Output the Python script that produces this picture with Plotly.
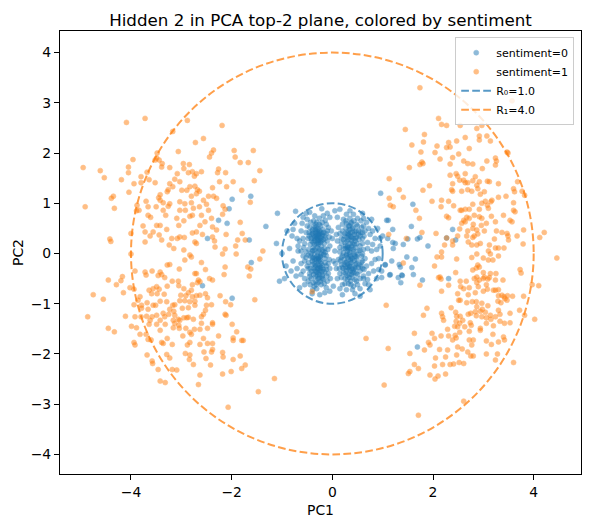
import plotly.graph_objects as go

# Hidden-layer-2 activations projected on PCA top-2, split by sentiment label.
# (PC1, PC2) pairs.

# sentiment = 0 : four tight clumps round the origin
s0_core = [
    (-0.30, 0.32), (-0.25, 0.40), (-0.35, 0.25), (-0.42, 0.38), (-0.18, 0.28), (-0.28, 0.50),
    (-0.38, 0.12), (-0.22, 0.15), (-0.48, 0.30), (-0.12, 0.40), (-0.33, 0.58), (-0.20, 0.62),
    (-0.45, 0.52), (-0.55, 0.20), (-0.15, 0.10), (-0.27, 0.05), (-0.40, 0.45), (-0.32, 0.36),
    (-0.24, 0.22), (-0.36, 0.30), (-0.29, 0.43), (-0.19, 0.48), (-0.10, 0.25), (-0.08, 0.52),
    (-0.52, 0.42), (-0.58, 0.30), (-0.44, 0.18), (-0.37, 0.65), (-0.26, 0.70), (-0.14, 0.66),
    (-0.31, 0.20), (-0.21, 0.35), (-0.39, 0.40), (-0.34, 0.47), (-0.27, 0.27), (-0.23, 0.55),
    (-0.47, 0.08), (-0.06, 0.33), (-0.16, 0.20), (-0.41, 0.25), (-0.30, 0.12), (-0.50, 0.55),
    (-0.62, 0.45), (-0.05, 0.15), (-0.12, 0.58), (-0.35, 0.75), (-0.43, 0.62), (-0.18, 0.75),
    (-0.26, 0.33), (-0.33, 0.42), (-0.22, 0.42), (-0.28, 0.18), (-0.36, 0.55), (-0.46, 0.35),
    (-0.15, 0.35), (-0.10, 0.45), (-0.57, 0.12), (-0.65, 0.25), (-0.09, 0.08), (-0.40, 0.05),
    (-0.31, 0.30), (-0.27, 0.36), (-0.34, 0.33), (-0.29, 0.26), (-0.23, 0.31), (-0.37, 0.35),
    (-0.25, 0.45), (-0.32, 0.40), (-0.20, 0.38), (-0.38, 0.22), (-0.30, 0.48), (-0.24, 0.26),
    (-0.35, 0.18), (-0.28, 0.39), (-0.42, 0.30), (-0.17, 0.42), (-0.26, 0.58), (-0.33, 0.52),
    (-0.21, 0.25), (-0.39, 0.48), (-0.31, 0.62), (-0.14, 0.30), (-0.46, 0.42), (-0.28, 0.22),
    (-0.35, 0.08),
    (-0.30, 0.02), (-0.22, -0.01), (-0.35, -0.02), (-0.18, 0.04), (-0.42, 0.00), (-0.26, 0.09),
    (-0.33, -0.09), (-0.12, -0.04), (-0.48, -0.03), (-0.20, 0.07), (-0.38, 0.06), (-0.28, -0.10),
    (-0.14, 0.02), (-0.52, 0.03), (-0.24, -0.06),
    (-0.28, -0.28), (-0.22, -0.20), (-0.35, -0.35), (-0.40, -0.22), (-0.18, -0.32), (-0.30, -0.45),
    (-0.25, -0.12), (-0.45, -0.40), (-0.12, -0.25), (-0.33, -0.55), (-0.20, -0.50), (-0.50, -0.25),
    (-0.15, -0.10), (-0.38, -0.08), (-0.27, -0.38), (-0.32, -0.18), (-0.24, -0.30), (-0.42, -0.50),
    (-0.08, -0.40), (-0.55, -0.15), (-0.48, -0.55), (-0.36, -0.65), (-0.22, -0.62), (-0.10, -0.55),
    (-0.30, -0.05), (-0.44, -0.30), (-0.19, -0.42), (-0.29, -0.22), (-0.34, -0.28), (-0.26, -0.48),
    (-0.14, -0.18), (-0.05, -0.30), (-0.58, -0.35), (-0.52, -0.08), (-0.40, -0.15), (-0.16, -0.60),
    (-0.31, -0.70), (-0.44, -0.62), (-0.06, -0.12), (-0.23, -0.05), (-0.37, -0.42), (-0.21, -0.36),
    (-0.28, -0.58), (-0.47, -0.18), (-0.11, -0.45), (-0.35, -0.12), (-0.25, -0.25), (-0.32, -0.36),
    (-0.62, -0.42), (-0.04, -0.50), (-0.17, -0.02), (-0.39, -0.72), (-0.12, -0.68), (-0.55, -0.50),
    (-0.27, -0.15), (-0.43, -0.05),
    (-0.29, -0.30), (-0.25, -0.34), (-0.33, -0.24), (-0.30, -0.38), (-0.22, -0.28), (-0.37, -0.30),
    (-0.26, -0.42), (-0.34, -0.46), (-0.19, -0.24), (-0.41, -0.36), (-0.28, -0.50), (-0.23, -0.16),
    (-0.36, -0.20), (-0.31, -0.12), (-0.15, -0.36), (-0.45, -0.46), (-0.24, -0.55), (-0.38, -0.58),
    (-0.20, -0.45), (-0.32, -0.62), (-0.48, -0.30), (-0.12, -0.32), (-0.27, -0.08), (-0.40, -0.10),
    (-0.18, -0.52),
    (0.38, 0.32), (0.30, 0.40), (0.45, 0.25), (0.52, 0.38), (0.25, 0.22), (0.40, 0.50),
    (0.33, 0.12), (0.60, 0.30), (0.20, 0.45), (0.48, 0.58), (0.28, 0.60), (0.55, 0.15),
    (0.18, 0.30), (0.42, 0.08), (0.65, 0.45), (0.35, 0.70), (0.50, 0.70), (0.22, 0.68),
    (0.70, 0.22), (0.15, 0.12), (0.36, 0.42), (0.44, 0.38), (0.32, 0.28), (0.40, 0.20),
    (0.27, 0.50), (0.58, 0.52), (0.62, 0.08), (0.12, 0.52), (0.47, 0.45), (0.34, 0.55),
    (0.53, 0.28), (0.24, 0.35), (0.75, 0.38), (0.80, 0.18), (0.68, 0.62), (0.10, 0.25),
    (0.30, 0.05), (0.43, 0.65), (0.56, 0.42), (0.39, 0.15), (0.26, 0.15), (0.49, 0.20),
    (0.37, 0.60), (0.20, 0.58), (0.15, 0.40), (0.63, 0.35), (0.72, 0.50), (0.42, 0.78),
    (0.28, 0.78), (0.57, 0.65), (0.85, 0.30), (0.33, 0.35), (0.46, 0.30), (0.40, 0.42),
    (0.22, 0.10), (0.52, 0.05), (0.35, 0.48), (0.29, 0.32), (0.60, 0.20), (0.08, 0.38),
    (0.37, 0.34), (0.33, 0.38), (0.42, 0.30), (0.38, 0.26), (0.31, 0.45), (0.45, 0.43),
    (0.48, 0.33), (0.29, 0.25), (0.41, 0.52), (0.35, 0.20), (0.52, 0.45), (0.25, 0.40),
    (0.44, 0.18), (0.32, 0.55), (0.55, 0.35), (0.22, 0.28), (0.38, 0.62), (0.50, 0.55),
    (0.27, 0.65), (0.60, 0.42), (0.46, 0.12), (0.18, 0.20), (0.36, 0.10), (0.62, 0.55),
    (0.30, 0.15),
    (0.35, 0.02), (0.28, -0.04), (0.42, 0.04), (0.22, 0.01), (0.48, -0.06), (0.32, 0.08),
    (0.38, -0.09), (0.15, 0.03), (0.55, 0.06), (0.26, 0.10), (0.44, -0.02), (0.60, -0.01),
    (0.18, -0.08), (0.36, -0.13), (0.30, 0.12),
    (0.35, -0.25), (0.28, -0.18), (0.42, -0.32), (0.48, -0.20), (0.22, -0.30), (0.38, -0.42),
    (0.30, -0.08), (0.55, -0.35), (0.18, -0.22), (0.45, -0.52), (0.25, -0.50), (0.60, -0.15),
    (0.15, -0.40), (0.40, -0.10), (0.62, -0.45), (0.32, -0.60), (0.50, -0.62), (0.20, -0.62),
    (0.68, -0.25), (0.12, -0.12), (0.36, -0.35), (0.44, -0.28), (0.31, -0.28), (0.38, -0.18),
    (0.26, -0.40), (0.55, -0.50), (0.58, -0.05), (0.10, -0.50), (0.47, -0.40), (0.34, -0.48),
    (0.52, -0.28), (0.23, -0.12), (0.72, -0.40), (0.78, -0.20), (0.65, -0.60), (0.08, -0.30),
    (0.28, -0.02), (0.42, -0.65), (0.57, -0.25), (0.37, -0.05), (0.24, -0.22), (0.49, -0.12),
    (0.36, -0.55), (0.18, -0.48), (0.14, -0.30), (0.63, -0.32), (0.70, -0.52), (0.40, -0.72),
    (0.28, -0.72), (0.55, -0.70), (0.82, -0.35), (0.33, -0.32), (0.46, -0.22), (0.40, -0.38),
    (0.20, -0.05), (0.50, -0.02), (0.33, -0.42), (0.27, -0.28), (0.58, -0.18), (0.06, -0.20),
    (0.34, -0.26), (0.30, -0.22), (0.39, -0.30), (0.36, -0.20), (0.28, -0.34), (0.43, -0.38),
    (0.46, -0.30), (0.26, -0.18), (0.40, -0.48), (0.32, -0.12), (0.50, -0.42), (0.22, -0.38),
    (0.44, -0.14), (0.30, -0.52), (0.53, -0.22), (0.20, -0.28), (0.37, -0.62), (0.48, -0.55),
    (0.25, -0.60), (0.60, -0.30), (0.45, -0.05), (0.16, -0.15), (0.34, -0.02), (0.62, -0.50),
    (0.29, -0.44),
]

# sentiment = 0 : looser points around / outside the R0 circle
s0_stray = [
    (-0.75, 0.60), (-0.80, 0.35), (-0.85, 0.10), (-0.78, -0.15), (-0.72, -0.45), (-0.65, -0.68),
    (-0.58, 0.72), (-0.45, 0.82), (-0.21, 0.89), (-0.73, 0.84), (-1.09, 0.80), (-1.32, 0.54),
    (-1.11, 0.20), (-1.05, -0.55), (-0.95, -0.50), (-0.90, 0.45), (-1.00, 0.00), (-0.92, -0.25),
    (-0.68, 0.05), (-0.70, 0.30), (-0.62, -0.20), (0.05, 0.85), (0.15, 0.88), (0.60, 0.80),
    (0.78, 0.68), (0.90, 0.50), (0.95, 0.15), (0.92, -0.10), (0.88, -0.50), (0.75, -0.72),
    (0.55, -0.85), (0.20, -0.82), (-0.05, -0.75), (-0.25, -0.82), (1.08, 0.66), (1.20, 0.48),
    (1.05, -0.23), (1.14, -0.43), (1.35, -0.27), (1.38, -0.43), (1.25, 0.20), (1.10, 0.30),
    (0.98, -0.35), (1.00, 0.35), (-0.05, 0.72), (0.02, -0.65), (0.00, 0.30), (0.02, -0.15),
    (-0.60, 0.60), (-0.68, 0.15), (-0.70, -0.30), (-0.55, -0.62), (-0.50, 0.68), (-0.40, -0.80),
    (-0.15, -0.78), (-0.10, 0.80), (0.10, 0.72), (0.35, 0.85), (0.62, 0.70), (0.78, 0.05),
    (0.85, -0.12), (0.80, 0.45), (0.72, -0.62), (0.45, -0.80), (0.15, -0.70), (-0.58, -0.05),
    (-0.62, 0.05), (0.70, 0.10), (0.65, -0.10), (-0.08, -0.20), (-0.02, 0.45), (0.05, 0.05),
    (0.88, 0.08), (-0.82, -0.35), (-0.78, 0.48), (0.95, 0.30), (0.92, -0.32), (-0.52, 0.80),
    (-1.99, 1.08), (-1.62, 1.14), (-2.05, 0.89), (-2.26, 0.66), (-2.09, 0.60), (-2.48, 0.30),
    (-1.65, 0.27), (-1.61, -0.18), (-2.58, -0.64), (-1.99, -0.89),
    (0.96, 1.20), (1.60, 0.98), (1.11, 0.66), (1.57, 0.54), (1.74, 0.32), (1.69, 0.29),
    (1.50, 0.29), (1.41, 0.18), (1.20, 0.22), (1.21, 0.10), (1.90, 0.15), (1.48, -0.07),
    (1.65, -0.11), (2.39, 0.48), (2.45, 0.27), (2.27, 0.31), (1.33, -0.22), (1.18, -0.15),
    (1.05, -0.22), (1.58, -0.28), (1.15, -0.42), (1.31, -0.48), (1.39, -0.44), (1.36, -0.58),
    (1.61, -0.42), (1.79, -0.53), (2.31, -0.50), (1.69, -1.86), (0.98, -0.48),
]

# sentiment = 1 : left band (PC1 < 0)
s1_left = [
    (-4.09, 2.61), (-3.72, 2.69), (-2.88, 2.65), (-2.19, 2.55), (-3.17, 2.43), (-2.72, 2.21),
    (-2.56, 2.29), (-2.36, 2.06), (-2.40, 2.00), (-2.44, 1.92), (-1.95, 2.05), (-1.57, 2.05),
    (-3.06, 2.03), (-3.48, 2.00), (-3.49, 1.90), (-3.52, 1.86), (-3.44, 1.86), (-3.96, 1.87),
    (-1.93, 1.92), (-1.83, 1.81), (-1.67, 1.81), (-4.95, 1.71), (-4.61, 1.65), (-4.05, 1.72),
    (-3.38, 1.79), (-3.39, 1.72), (-3.23, 1.71), (-2.96, 1.79), (-2.84, 1.77), (-2.95, 1.69),
    (-2.26, 1.68), (-1.44, 1.65), (-4.53, 1.51), (-4.05, 1.61), (-4.19, 1.47), (-3.68, 1.62),
    (-3.80, 1.53), (-3.64, 1.47), (-3.08, 1.59), (-2.86, 1.61), (-2.78, 1.63), (-2.70, 1.59),
    (-2.60, 1.63), (-2.28, 1.61), (-2.12, 1.61), (-1.55, 1.45), (-3.80, 1.41), (-3.52, 1.41),
    (-3.94, 1.39), (-3.23, 1.39), (-3.13, 1.48), (-3.03, 1.43), (-2.74, 1.54), (-2.24, 1.43),
    (-1.97, 1.43), (-2.10, 1.33), (-3.17, 1.33), (-2.89, 1.26), (-2.83, 1.33), (-2.73, 1.34),
    (-2.68, 1.27), (-2.70, 1.19), (-2.80, 1.14), (-2.64, 1.24), (-2.46, 1.14), (-2.36, 1.14),
    (-2.38, 1.31), (-1.80, 1.26), (-4.04, 1.22), (-3.26, 1.27), (-3.42, 1.17), (-3.28, 1.23),
    (-2.99, 1.26), (-4.35, 1.14), (-4.39, 1.10), (-3.70, 1.04), (-3.88, 0.96), (-3.66, 0.93),
    (-3.50, 0.93), (-3.45, 1.11), (-3.42, 1.06), (-3.36, 1.01), (-3.23, 0.99), (-3.26, 0.94),
    (-3.03, 1.03), (-2.93, 0.99), (-2.80, 1.01), (-2.56, 1.06), (-2.50, 0.98), (-2.30, 1.10),
    (-2.17, 0.95), (-1.63, 1.02), (-4.33, 0.90), (-4.91, 0.93), (-3.84, 0.86), (-3.89, 0.85),
    (-3.36, 0.86), (-3.03, 0.86), (-2.92, 0.86), (-2.76, 0.90), (-2.64, 0.93), (-2.13, 0.88),
    (-3.31, 0.76), (-3.61, 0.72), (-3.66, 0.76), (-3.09, 0.70), (-2.83, 0.74), (-2.78, 0.76),
    (-2.60, 0.76), (-2.46, 0.86), (-2.40, 0.70), (-2.53, 0.63), (-2.63, 0.56), (-1.83, 0.62),
    (-3.49, 0.56), (-3.42, 0.56), (-3.76, 0.55), (-2.95, 0.65), (-3.05, 0.56), (-2.18, 0.78),
    (-2.38, 0.53), (-2.30, 0.47), (-3.72, 0.43), (-3.56, 0.43), (-2.11, 0.38), (-1.79, 0.40),
    (-3.29, 0.48), (-2.70, 0.43), (-2.78, 0.41), (-2.58, 0.38), (-4.00, 0.40), (-3.62, 0.35),
    (-3.39, 0.27), (-3.44, 0.37), (-3.19, 0.30), (-3.08, 0.30), (-3.03, 0.33), (-2.94, 0.32),
    (-2.34, 0.25), (-2.38, 0.33), (-1.88, 0.27), (-1.73, 0.27), (-4.42, 0.29), (-4.40, 0.24),
    (-3.72, 0.23), (-2.73, 0.23), (-2.70, 0.20), (-3.24, 0.17), (-2.33, 0.13), (-2.13, 0.09),
    (-1.92, 0.15), (-3.15, 0.10), (-2.95, 0.07), (-4.00, -0.01), (-2.83, -0.03), (-2.80, -0.07),
    (-2.18, -0.01), (-1.91, -0.01), (-2.93, -0.13), (-1.44, -0.11),
    (-2.60, -0.18), (-2.13, -0.27), (-1.68, -0.27), (-1.62, -0.31), (-3.28, -0.23), (-3.23, -0.22),
    (-3.04, -0.31), (-2.52, -0.32), (-2.73, -0.40), (-2.70, -0.40), (-2.15, -0.42), (-1.65, -0.45),
    (-3.92, -0.35), (-3.72, -0.37), (-3.70, -0.43), (-3.58, -0.35), (-3.42, -0.37), (-3.46, -0.44),
    (-3.39, -0.42), (-3.33, -0.48), (-4.17, -0.46), (-4.20, -0.54), (-4.45, -0.53), (-4.29, -0.62),
    (-3.18, -0.55), (-3.06, -0.55), (-3.05, -0.64), (-2.66, -0.53), (-2.63, -0.56), (-2.44, -0.50),
    (-2.38, -0.53), (-2.68, -0.58), (-2.78, -0.62), (-2.80, -0.73), (-2.95, -0.70), (-2.86, -0.78),
    (-3.28, -0.65), (-3.49, -0.66), (-3.56, -0.70), (-3.64, -0.73), (-3.44, -0.71), (-3.59, -0.80),
    (-3.48, -0.80), (-3.34, -0.81), (-4.02, -0.68), (-4.15, -0.78), (-3.94, -0.71), (-4.75, -0.82),
    (-4.55, -0.91), (-3.82, -0.86), (-2.52, -0.80), (-2.63, -0.83), (-2.48, -0.88), (-2.23, -0.84),
    (-3.01, -0.83), (-2.91, -0.84), (-2.78, -0.86), (-2.73, -0.95), (-2.70, -0.84), (-3.86, -0.93),
    (-3.68, -0.98), (-3.56, -1.03), (-3.51, -1.03), (-3.94, -1.02), (-3.79, -1.03), (-3.42, -0.95),
    (-3.29, -0.96), (-3.17, -1.03), (-3.13, -1.02), (-3.03, -0.94), (-2.93, -0.94), (-2.83, -0.96),
    (-2.98, -1.09), (-2.86, -1.08), (-2.73, -1.03), (-2.50, -1.03), (-2.40, -1.02), (-2.12, -0.96),
    (-2.02, -1.02), (-1.54, -0.92), (-3.66, -1.11), (-3.23, -1.11), (-3.15, -1.15), (-3.79, -1.09),
    (-3.36, -1.19), (-3.25, -1.21), (-3.13, -1.23), (-3.33, -1.26), (-3.49, -1.23), (-3.58, -1.26),
    (-3.69, -1.25), (-3.80, -1.26), (-3.92, -1.26), (-4.11, -1.25), (-4.86, -1.26), (-3.06, -1.31),
    (-2.95, -1.28), (-2.89, -1.28), (-2.86, -1.27), (-3.03, -1.33), (-2.76, -1.31), (-2.60, -1.26),
    (-2.56, -1.21), (-2.52, -1.13), (-2.13, -1.21), (-2.11, -1.23), (-3.62, -1.33), (-3.42, -1.33),
    (-3.16, -1.33), (-3.13, -1.39), (-3.99, -1.45), (-3.89, -1.48), (-3.64, -1.41), (-3.49, -1.41),
    (-3.32, -1.41), (-3.05, -1.43), (-3.04, -1.49), (-2.91, -1.49), (-2.74, -1.51), (-2.63, -1.51),
    (-2.60, -1.39), (-2.48, -1.49), (-2.38, -1.38), (-2.38, -1.41), (-1.99, -1.41), (-4.45, -1.49),
    (-4.33, -1.56), (-3.82, -1.61), (-3.70, -1.61), (-3.66, -1.71), (-3.42, -1.53), (-3.16, -1.48),
    (-2.97, -1.64), (-2.83, -1.57), (-2.80, -1.61), (-2.56, -1.69), (-2.26, -1.64), (-1.90, -1.56),
    (-1.97, -1.68), (-1.97, -1.73), (-1.80, -1.73), (-1.77, -1.73), (-3.94, -1.77), (-3.92, -1.82),
    (-3.60, -1.72), (-3.39, -1.77), (-3.36, -1.79), (-3.28, -1.69), (-3.18, -1.81), (-2.88, -1.82),
    (-2.83, -1.77), (-2.63, -1.81), (-2.48, -1.79), (-2.38, -1.79), (-2.38, -1.91), (-2.55, -1.96),
    (-2.40, -1.96), (-2.18, -1.97), (-2.92, -1.99), (-2.83, -2.02), (-3.23, -2.08), (-3.29, -2.01),
    (-3.68, -2.02), (-3.58, -2.14), (-3.57, -2.19), (-2.84, -2.11), (-2.76, -2.21), (-2.51, -2.09),
    (-2.42, -2.22), (-2.17, -2.06), (-1.97, -2.11), (-1.83, -2.04), (-1.73, -2.22), (-1.80, -2.29),
    (-3.46, -2.31), (-3.18, -2.31), (-3.09, -2.32), (-2.01, -2.35), (-2.63, -2.42), (-2.18, -2.40),
    (-3.42, -2.54), (-3.32, -2.57), (-2.66, -2.61), (-1.47, -2.75), (-2.07, -3.06), (-1.15, -2.49),
    (-1.38, 0.05), (-0.40, -0.76),
]

# sentiment = 1 : right band (PC1 > 0)
s1_right = [
    (1.74, 3.30), (3.57, 3.04), (2.11, 2.69), (2.17, 2.57), (2.27, 2.55), (2.54, 2.55),
    (1.45, 2.47), (2.87, 2.49), (2.97, 2.55), (1.83, 2.37), (1.81, 2.22), (1.58, 2.16),
    (2.08, 2.14), (2.31, 2.21), (2.34, 2.12), (2.27, 2.11), (2.47, 2.24), (2.64, 2.31),
    (2.92, 2.34), (2.92, 2.26), (3.07, 2.34), (2.72, 2.09), (3.14, 2.24), (2.04, 2.01),
    (1.76, 2.02), (2.51, 1.98), (1.78, 1.82), (1.80, 1.79), (1.74, 1.77), (2.14, 1.88),
    (2.39, 1.91), (2.61, 1.84), (2.69, 1.79), (2.79, 1.78), (3.07, 1.84), (3.24, 1.90),
    (3.26, 1.84), (3.24, 1.76), (3.47, 2.02), (3.49, 2.00), (2.34, 1.78), (1.53, 1.71),
    (2.98, 1.69), (1.13, 1.49), (2.34, 1.56), (2.46, 1.59), (2.49, 1.54), (2.64, 1.59),
    (2.39, 1.39), (2.53, 1.46), (2.61, 1.46), (2.64, 1.41), (2.69, 1.41), (2.84, 1.53),
    (2.79, 1.45), (2.92, 1.43), (3.08, 1.44), (3.12, 1.43), (3.30, 1.39), (3.68, 1.43),
    (2.87, 1.36), (2.89, 1.29), (2.37, 1.27), (2.39, 1.24), (2.57, 1.24), (2.69, 1.27),
    (2.77, 1.24), (2.94, 1.18), (3.02, 1.23), (1.33, 1.27), (1.80, 1.26), (1.93, 1.35),
    (3.60, 1.29), (3.62, 1.23), (3.77, 1.24), (3.82, 1.16), (1.41, 1.12), (1.13, 1.10),
    (1.15, 0.96), (1.21, 0.93), (1.98, 1.04), (2.17, 1.06), (2.16, 0.93), (2.31, 1.04),
    (2.41, 0.95), (2.54, 0.86), (2.57, 0.86), (2.64, 0.88), (2.72, 0.88), (2.79, 0.98),
    (2.92, 0.88), (2.97, 1.00), (3.04, 1.04), (3.08, 0.96), (3.10, 0.90), (3.15, 1.03),
    (3.17, 1.06), (3.30, 1.12), (3.45, 1.14), (3.60, 1.01), (3.60, 0.86), (3.63, 0.83),
    (1.66, 0.86), (1.73, 0.70), (2.27, 0.74), (2.31, 0.71), (2.61, 0.66), (2.67, 0.72),
    (2.72, 0.70), (2.82, 0.76), (2.92, 0.73), (2.97, 0.70), (3.16, 0.74), (2.57, 0.60),
    (2.64, 0.63), (3.40, 0.76), (3.53, 0.66), (3.57, 0.63), (2.80, 0.58), (2.96, 0.56),
    (3.06, 0.60), (3.24, 0.63), (2.53, 0.49), (2.69, 0.45), (2.79, 0.50), (2.87, 0.47),
    (2.89, 0.39), (3.02, 0.45), (3.26, 0.45), (3.37, 0.42), (3.47, 0.40), (3.49, 0.35),
    (3.50, 0.27), (3.67, 0.35), (3.80, 0.47), (4.12, 0.32), (4.21, 0.42), (1.78, 0.42),
    (2.06, 0.40), (1.47, 0.30), (2.27, 0.31), (2.49, 0.35), (2.67, 0.35), (2.79, 0.32),
    (2.82, 0.35), (2.70, 0.23), (2.77, 0.17), (2.87, 0.17), (2.94, 0.20), (3.12, 0.17),
    (3.22, 0.29), (3.24, 0.11), (3.30, 0.11), (3.41, 0.11), (3.79, 0.19), (2.23, 0.17),
    (2.39, 0.25), (2.39, 0.17), (2.17, 0.03), (2.08, -0.07), (2.47, -0.11), (2.77, -0.08),
    (2.87, -0.01), (3.00, -0.09), (3.10, 0.05), (3.14, -0.01), (3.30, -0.05), (4.46, -0.09),
    (1.12, 0.38), (1.41, -0.19), (2.17, -0.07), (3.10, -0.13), (3.19, -0.13),
    (2.03, -0.25), (2.79, -0.33), (2.86, -0.29), (2.89, -0.23), (2.92, -0.27), (2.45, -0.38),
    (3.00, -0.38), (3.02, -0.47), (3.14, -0.40), (3.25, -0.40), (3.73, -0.32), (3.75, -0.39),
    (2.11, -0.48), (2.16, -0.51), (2.14, -0.47), (2.54, -0.55), (2.66, -0.55), (2.82, -0.50),
    (2.87, -0.47), (2.92, -0.53), (3.00, -0.50), (3.09, -0.51), (3.12, -0.48), (3.24, -0.53),
    (3.39, -0.53), (2.55, -0.66), (2.61, -0.70), (2.72, -0.68), (2.87, -0.58), (2.90, -0.66),
    (3.06, -0.62), (3.08, -0.71), (3.20, -0.73), (3.24, -0.73), (3.30, -0.72), (1.74, -0.63),
    (2.31, -0.63), (2.17, -0.75), (2.49, -0.80), (2.70, -0.82), (2.84, -0.78), (3.00, -0.75),
    (3.30, -0.84), (3.37, -0.83), (3.41, -0.86), (3.43, -0.90), (3.48, -0.84), (3.58, -0.85),
    (3.80, -0.85), (3.97, -0.62), (4.10, -0.64), (1.07, -1.03), (1.88, -1.09), (1.81, -1.23),
    (2.36, -1.08), (2.51, -0.93), (2.54, -0.93), (2.67, -0.98), (2.78, -0.96), (2.86, -0.96),
    (2.87, -1.06), (2.97, -0.99), (2.98, -1.11), (2.94, -1.15), (3.09, -1.04), (3.29, -0.95),
    (3.35, -0.98), (3.47, -0.93), (3.30, -1.13), (3.24, -1.26), (3.33, -1.21), (3.53, -1.19),
    (3.72, -1.13), (3.82, -1.23), (4.02, -1.31), (2.17, -1.19), (2.19, -1.26), (2.21, -1.33),
    (2.45, -1.17), (2.47, -1.25), (2.54, -1.25), (2.70, -1.21), (2.75, -1.19), (2.84, -1.16),
    (2.86, -1.24), (2.97, -1.26), (3.06, -1.28), (3.04, -1.17), (3.14, -1.23), (3.15, -1.31),
    (2.59, -1.33), (2.74, -1.38), (2.76, -1.43), (2.46, -1.35), (2.53, -1.39), (2.43, -1.45),
    (2.29, -1.51), (2.49, -1.46), (2.63, -1.46), (2.94, -1.49), (3.06, -1.39), (3.20, -1.44),
    (3.33, -1.35), (3.42, -1.39), (3.53, -1.38), (1.98, -1.59), (2.16, -1.64), (2.31, -1.64),
    (2.44, -1.63), (2.53, -1.57), (2.46, -1.68), (2.72, -1.55), (2.94, -1.53), (3.19, -1.61),
    (3.40, -1.66), (1.63, -1.59), (1.91, -1.77), (1.94, -1.82), (2.03, -1.69), (2.39, -1.72),
    (2.49, -1.86), (2.58, -1.90), (2.72, -1.72), (2.77, -1.82), (2.80, -1.72), (3.06, -1.74),
    (3.30, -1.76), (3.16, -1.81), (3.42, -1.72), (1.83, -1.92), (2.13, -1.91), (2.29, -1.92),
    (2.69, -1.96), (2.75, -2.04), (2.80, -2.04), (2.47, -2.02), (3.06, -2.00), (3.28, -2.00),
    (1.54, -1.99), (2.05, -2.08), (2.25, -2.06), (3.24, -2.12), (3.60, -2.17), (1.63, -2.21),
    (1.71, -2.29), (2.03, -2.24), (2.19, -2.21), (2.34, -2.21), (2.41, -2.20), (2.52, -2.17),
    (2.61, -2.19), (1.54, -2.35), (1.51, -2.39), (1.94, -2.42), (2.04, -2.50), (2.10, -2.44),
    (2.25, -2.40), (1.11, -1.89), (1.03, -2.62), (2.61, -2.94), (1.71, -3.22), (0.67, -1.69),
]

R0 = 1.0
R1 = 4.0

pts0 = s0_core + s0_stray
pts1 = s1_left + s1_right

BLUE = "#1f77b4"
ORANGE = "#ff7f0e"
FONT = "DejaVu Sans"

fig = go.Figure()

fig.add_trace(go.Scatter(
    x=[p[0] for p in pts0], y=[p[1] for p in pts0],
    mode="markers", name="sentiment=0",
    marker=dict(size=5, color=BLUE, opacity=0.5, line=dict(width=0.6, color=BLUE)),
))
fig.add_trace(go.Scatter(
    x=[p[0] for p in pts1], y=[p[1] for p in pts1],
    mode="markers", name="sentiment=1",
    marker=dict(size=5, color=ORANGE, opacity=0.5, line=dict(width=0.6, color=ORANGE)),
))

# radius circles, plus legend-only line entries for them
for r, col, label in [(R0, "rgba(31,119,180,0.75)", "R\u2080=%.1f" % R0),
                      (R1, "rgba(255,127,14,0.75)", "R\u2081=%.1f" % R1)]:
    fig.add_shape(type="circle", xref="x", yref="y",
                  x0=-r, y0=-r, x1=r, y1=r,
                  line=dict(color=col, width=2, dash="7.7px,3.3px"))
    fig.add_trace(go.Scatter(
        x=[None], y=[None], mode="lines", name=label,
        line=dict(color=col, width=2, dash="7.7px,3.3px"),
    ))

axis_common = dict(
    showline=True, mirror=True, linecolor="black", linewidth=1.1,
    ticks="outside", ticklen=5, tickwidth=1.1, tickcolor="black",
    showgrid=False, zeroline=False, automargin=False,
    tickfont=dict(family=FONT, size=13.9, color="black"),
)

# the page body adds an 8px offset, so the figure is 8px smaller and margins shifted
fig.update_layout(
    width=582, height=519,
    margin=dict(l=52, r=9, t=23, b=53),
    paper_bgcolor="white", plot_bgcolor="white",
    font=dict(family=FONT, color="black"),
    title=dict(text="Hidden 2 in PCA top-2 plane, colored by sentiment",
               x=0.5, xref="paper", xanchor="center",
               y=1, yref="paper", yanchor="bottom", pad=dict(b=5),
               font=dict(family=FONT, size=16.7, color="black")),
    xaxis=dict(range=[-5.41, 4.94], tickvals=[-4, -2, 0, 2, 4],
               title=dict(text="PC1", standoff=6, font=dict(family=FONT, size=13.9)),
               **axis_common),
    yaxis=dict(range=[-4.39, 4.43], tickvals=[-4, -3, -2, -1, 0, 1, 2, 3, 4],
               title=dict(text="PC2", standoff=3, font=dict(family=FONT, size=13.9)),
               **axis_common),
    legend=dict(x=0.987, y=0.986, xanchor="right", yanchor="top",
                bgcolor="rgba(255,255,255,0.8)", bordercolor="#cccccc", borderwidth=1,
                font=dict(family=FONT, size=11, color="black"),
                itemwidth=30, tracegroupgap=0),
    showlegend=True,
)

fig.write_html("out.html")
